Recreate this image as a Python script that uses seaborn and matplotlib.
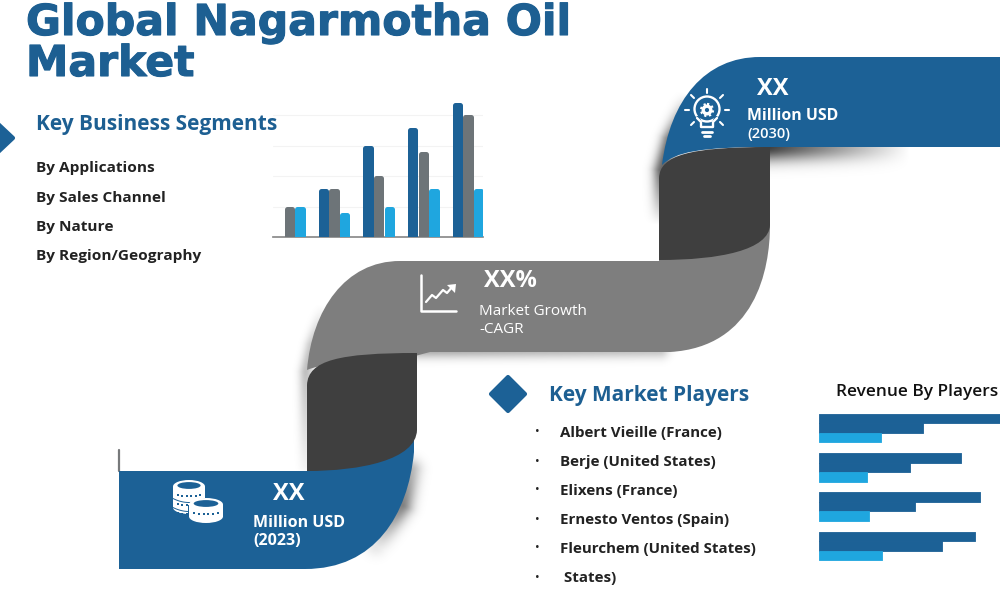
import numpy as np
import pandas as pd
import matplotlib
matplotlib.use("Agg")
import matplotlib.pyplot as plt
import matplotlib.patheffects as pe
from matplotlib.path import Path
from matplotlib.patches import PathPatch, Polygon, Ellipse, Circle, Rectangle
import seaborn as sns

# grouped column chart (top middle)
seg_groups = ["A", "B", "C", "D", "E"]
seg_series = ["s1", "s2", "s3"]
seg_blue = [np.nan, 1.6, 3.0, 3.6, 4.4]
seg_grey = [1.0, 1.6, 2.0, 2.8, 4.0]
seg_light = [1.0, 0.8, 1.0, 1.6, 1.6]

# revenue bars (bottom right)
players_rows = ["P1", "P2", "P3", "P4"]
rev_series = ["r1", "r2", "r3"]
rev_long = [185, 142, 161, 156]
rev_mid = [104, 91, 96, 123]
rev_short = [62, 48, 50, 63]

segments = ["By Applications", "By Sales Channel", "By Nature", "By Region/Geography"]
players = ["Albert Vieille (France)", "Berje (United States)", "Elixens (France)",
           "Ernesto Ventos (Spain)", "Fleurchem (United States)", " States)"]

BLUE = "#1c6196"
TITLE = "#1d5f92"
GREY = "#7e7e7e"
DARK = "#3f3f3f"
SKY = "#1fa6df"
BARGREY = "#6d7478"

sns.set_theme(style="white")
plt.rcParams["font.family"] = ["Open Sans", "DejaVu Sans"]

fig = plt.figure(figsize=(10, 6), dpi=100)
bg = fig.add_axes([0, 0, 1, 1])
bg.set_xlim(0, 1000)
bg.set_ylim(600, 0)
bg.axis("off")


def px_axes(left, top, right, bottom):
    ax = fig.add_axes([left / 1000, 1 - bottom / 600, (right - left) / 1000, (bottom - top) / 600])
    ax.patch.set_alpha(0)
    return ax


def shape(verts, color, z=2):
    # verts: start point, then tuples of 1 (line) or 3 (bezier) points
    pts = [verts[0]]
    codes = [Path.MOVETO]
    for seg in verts[1:]:
        if len(seg) == 3 and isinstance(seg[0], tuple):
            pts += list(seg)
            codes += [Path.CURVE4] * 3
        else:
            pts.append(seg)
            codes.append(Path.LINETO)
    bg.add_patch(PathPatch(Path(pts, codes), fc=color, ec="none", zorder=z))


def diamond(pts, z=2):
    bg.add_patch(Polygon(pts, fc=BLUE, ec=BLUE, lw=3, joinstyle="round", zorder=z))


# soft shadows: blurred falloff around segments, strength fades from s0 to s1
gx, gy = np.meshgrid(np.arange(1000) + 0.5, np.arange(600) + 0.5)
shade = np.zeros(gx.shape)


def add_shadow(x0, y0, x1, y1, sigma, s0, s1):
    global shade
    dx, dy = x1 - x0, y1 - y0
    t = np.clip(((gx - x0) * dx + (gy - y0) * dy) / (dx * dx + dy * dy), 0, 1)
    d = np.hypot(gx - (x0 + t * dx), gy - (y0 + t * dy))
    shade = np.maximum(shade, (s0 + (s1 - s0) * t) * np.exp(-(d / sigma) ** 2))


add_shadow(690, 95, 670, 140, 9, 0.0, 0.55)
add_shadow(670, 140, 662, 170, 9, 0.55, 0.6)
add_shadow(662, 170, 660, 225, 9, 0.6, 0.0)
add_shadow(770, 147, 910, 147, 14, 0.75, 0.0)
add_shadow(420, 349, 660, 349, 9, 0.35, 0.25)
add_shadow(325, 305, 312, 345, 7, 0.0, 0.22)
add_shadow(312, 345, 306, 372, 7, 0.22, 0.25)
add_shadow(306, 372, 306, 465, 7, 0.25, 0.05)
add_shadow(410, 470, 402, 505, 11, 0.3, 0.5)
add_shadow(402, 505, 376, 545, 11, 0.5, 0.1)
rgba = np.zeros(gx.shape + (4,))
rgba[..., 3] = shade
bg.imshow(rgba, extent=(0, 1000, 600, 0), zorder=1, aspect="auto", interpolation="bilinear")
bg.set_xlim(0, 1000)
bg.set_ylim(600, 0)
bg.plot([119, 119], [450, 471], color="#77797b", lw=1.6, zorder=1)

# top blue band
shape([(1000, 57), (760, 57), ((705, 57), (670, 100), (662, 165)),
       ((675, 152), (700, 147), (770, 147)), (1000, 147)], BLUE, 3)
# grey band
shape([(770, 225), ((770, 270), (755, 347), (670, 352)), (430, 352), (400, 360),
       ((350, 360), (318, 365), (307, 370)),
       ((312, 310), (345, 261), (400, 261)), (659, 261), (659, 225)],
      GREY, 2)
# dark upper connector
shape([(770, 147), (770, 225), ((769, 250), (720, 260), (659, 260)), (659, 178),
       ((660, 155), (690, 147), (770, 147))], DARK, 4)
# dark lower connector
shape([(417, 353), (417, 430), ((416, 460), (360, 471), (307, 471)), (307, 385),
       ((308, 360), (340, 353), (417, 353))], DARK, 4)
# bottom blue band
shape([(119, 471), (307, 471), (307, 440), (414, 440), (414, 452),
       ((408, 515), (375, 569), (305, 569)), (119, 569)], BLUE, 3)

# title
title_font = dict(family="DejaVu Sans", fontweight="bold", color=TITLE, fontsize=30.65,
                  path_effects=[pe.withStroke(linewidth=0.8, foreground=TITLE)])
bg.text(26, 35, "Global Nagarmotha Oil", **title_font)
bg.text(26, 76, "Market", **title_font)

# left list
diamond([(-4, 122), (13, 138), (-4, 154)])
bg.text(36, 130, "Key Business Segments", color=TITLE, fontsize=15.0, fontweight="bold")
for label, y in zip(segments, [172, 202, 231, 260]):
    bg.text(36, y, label, color="#222222", fontsize=11.1, fontweight="bold")

# grouped columns
seg_df = pd.DataFrame({
    "group": seg_groups * 3,
    "series": np.repeat(seg_series, 5),
    "value": seg_blue + seg_grey + seg_light,
})
ax1 = px_axes(273, 100, 483, 237)
sns.barplot(data=seg_df, x="group", y="value", hue="series", hue_order=seg_series,
            palette=[BLUE, BARGREY, SKY], saturation=1, width=0.71, gap=0.5, errorbar=None,
            legend=False, ax=ax1, zorder=3)
for p in ax1.patches:
    if p.get_height() > 0:
        # round caps come from a thick round-joined edge, keep tops at their value
        p.set_edgecolor(p.get_facecolor())
        p.set_linewidth(3.6)
        p.set_joinstyle("round")
        p.set_height(p.get_height() - 0.08)
ax1.set_xlim(-0.367, 4.336)
ax1.set_ylim(0, 137 / 30.5)
ax1.set_yticks([1, 2, 3, 4])
ax1.yaxis.grid(True, color="#f3f3f3", lw=0.8)
ax1.set_axisbelow(True)
ax1.set(xlabel="", ylabel="", xticklabels=[], yticklabels=[])
sns.despine(ax=ax1, left=True)
ax1.spines["bottom"].set_color("#8a8a8a")
ax1.tick_params(length=0)

# ribbon labels
bg.text(773, 95, "XX", color="white", fontsize=17, fontweight="bold", ha="center", zorder=6)
bg.text(747, 120, "Million USD", color="white", fontsize=11.4, fontweight="bold", zorder=6)
bg.text(747, 138, "(2030)", color="white", fontsize=10.5, fontweight="semibold", zorder=6)
bg.text(510, 287, "XX%", color="white", fontsize=17, fontweight="bold", ha="center", zorder=6)
bg.text(479, 315, "Market Growth", color="white", fontsize=11, zorder=6)
bg.text(479, 333, "-CAGR", color="white", fontsize=11, zorder=6)
bg.text(289, 500, "XX", color="white", fontsize=17, fontweight="bold", ha="center", zorder=6)
bg.text(253, 527, "Million USD", color="white", fontsize=11.5, fontweight="bold", zorder=6)
bg.text(253, 545, "(2023)", color="white", fontsize=11.5, fontweight="bold", zorder=6)

# bulb icon
bg.add_patch(Circle((707, 109), 12.5, fc="none", ec="white", lw=1.7, zorder=5))
bg.add_patch(Circle((707, 110), 3.8, fc="none", ec="white", lw=2.4, zorder=5))
bg.add_patch(Circle((707, 110), 6, fc="none", ec="white", lw=1.6, ls=(0, (1, 1.2)), zorder=5))
bg.plot([698, 701, 713, 716], [118, 126, 126, 118], color=BLUE, lw=3, zorder=5)
bg.plot([697, 701, 701, 713, 713, 717], [118, 122, 127, 127, 122, 118], color="white", lw=1.7, zorder=5)
bg.plot([702, 712], [132, 132], color="white", lw=2, zorder=5)
bg.plot([704, 710], [136, 136], color="white", lw=2, zorder=5)
for a, b, c, d in [(707, 89, 707, 93), (691, 95, 694, 98), (723, 95, 720, 98), (685, 110, 689, 110),
                   (725, 110, 729, 110), (691, 125, 694, 122), (723, 125, 720, 122)]:
    bg.plot([a, c], [b, d], color="white", lw=1.5, zorder=5)

# trend icon
bg.plot([421, 421, 456], [275, 311, 311], color="white", lw=1.8, zorder=5)
bg.plot([426, 432, 436, 443, 447, 453], [302, 295, 298, 290, 293, 286], color="white", lw=1.6, zorder=5)
bg.add_patch(Polygon([(447, 285), (456, 284), (455, 293)], fc="white", ec="none", zorder=5))


# coins icon
def coin_stack(left, right, top, bottom, rows, z):
    cx, rx = (left + right) / 2, (right - left) / 2
    ry = 6.5
    bg.add_patch(Ellipse((cx, bottom - ry), rx * 2 + 3, ry * 2 + 3, fc=BLUE, ec="none", zorder=z))
    bg.add_patch(Rectangle((left - 1.5, top + ry), rx * 2 + 3, bottom - top - 2 * ry, fc=BLUE, ec="none", zorder=z))
    bg.add_patch(Ellipse((cx, bottom - ry), rx * 2, ry * 2, fc="white", ec="none", zorder=z))
    bg.add_patch(Rectangle((left, top + ry), rx * 2, bottom - top - 2 * ry, fc="white", ec="none", zorder=z))
    bg.add_patch(Ellipse((cx, top + ry), rx * 2, ry * 2, fc="white", ec="none", zorder=z))
    bg.add_patch(Ellipse((cx, top + ry - 1), rx * 1.45, ry * 1.05, fc=BLUE, ec="none", zorder=z))
    xs = np.linspace(left + 5, right - 5, 6)
    for k in range(rows):
        yy = top + ry + 7 + k * 9
        bg.scatter(xs, yy + 2.5 * (1 - ((xs - cx) / rx) ** 2), s=4, c=BLUE, marker="s", linewidths=0, zorder=z)
        if k < rows - 1:
            # thin gap between two coins of the pile
            arc_x = np.linspace(left, right, 20)
            bg.plot(arc_x, yy + 5 + 4 * (1 - ((arc_x - cx) / rx) ** 2), color=BLUE, lw=0.7, zorder=z)


coin_stack(173, 205, 480, 514, 3, 5)
coin_stack(189, 223, 498, 523, 1, 5.5)

# market players list
diamond([(508, 377), (525, 394), (508, 411), (491, 394)])
bg.text(549, 401, "Key Market Players", color=TITLE, fontsize=15.0, fontweight="bold")
for label, y in zip(players, [437, 466, 495, 524, 553, 582]):
    bg.text(560, y, label, color="#222222", fontsize=10.9, fontweight="bold")
    bg.text(537, y - 5, "•", color="#222222", fontsize=9, ha="center", va="center")
bg.text(917, 396, "Revenue By Players", color="#111111", fontsize=12.4, fontweight="semibold", ha="center")

# revenue bars
rev_df = pd.DataFrame({
    "row": players_rows * 3,
    "series": np.repeat(rev_series, 4),
    "value": rev_long + rev_mid + rev_short,
})
ax2 = px_axes(819, 400, 1000, 575)
sns.barplot(data=rev_df, y="row", x="value", hue="series", hue_order=rev_series,
            palette=[BLUE, BLUE, SKY], saturation=1, width=0.725, gap=0, errorbar=None,
            legend=False, ax=ax2)
for p in ax2.patches:
    p.set_edgecolor(p.get_facecolor())
    p.set_linewidth(0.6)
    p.set_joinstyle("round")
ax2.set_xlim(0, 181)
# row pitch 39.3 px, first row centred at 428
ax2.set_ylim((575 - 428) / 39.3, (400 - 428) / 39.3)
ax2.axis("off")

fig.savefig("out.png", dpi=100)
